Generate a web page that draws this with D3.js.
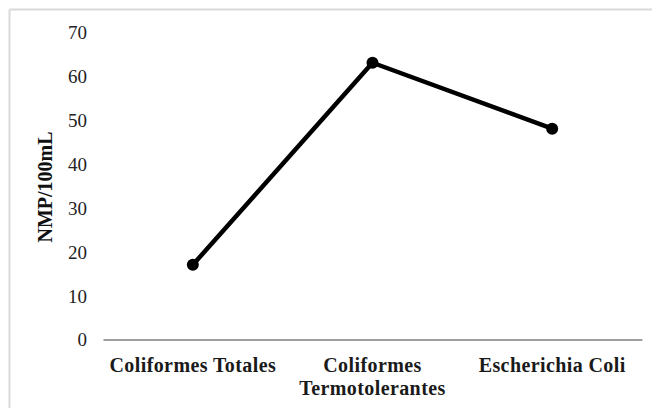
<!DOCTYPE html>
<html>
<head>
<meta charset="utf-8">
<script src="https://cdn.jsdelivr.net/npm/d3@7"></script>
<style>
  html, body { margin: 0; padding: 0; background: #fff; }
  svg { display: block; }
</style>
</head>
<body>
<svg id="chart" width="652" height="408"></svg>
<script>
const categories = ["Coliformes Totales", "Coliformes Termotolerantes", "Escherichia Coli"];
const categoryLines = [["Coliformes Totales"], ["Coliformes", "Termotolerantes"], ["Escherichia Coli"]];
const values = [17, 63, 48];
const yTicks = [0, 10, 20, 30, 40, 50, 60, 70];
const yLabel = "NMP/100mL";

const svg = d3.select("#chart");
const W = 652, H = 408;
const serif = "'Liberation Serif', 'Times New Roman', Times, serif";

svg.append("rect").attr("width", W).attr("height", H).attr("fill", "#fff");
// frame (top and left edges visible)
svg.append("line").attr("x1", 9.5).attr("x2", W).attr("y1", 9.5).attr("y2", 9.5)
  .attr("stroke", "#d9d9d9").attr("stroke-width", 2);
svg.append("line").attr("x1", 9.5).attr("x2", 9.5).attr("y1", 9.5).attr("y2", H)
  .attr("stroke", "#d9d9d9").attr("stroke-width", 2);

const x = d3.scaleBand().domain(categories).range([103, 642]);
const y = d3.scaleLinear().domain([0, 70]).range([339.5, 32]);

// y tick labels
const yAxis = d3.axisLeft(y).tickValues(yTicks).tickSize(0).tickPadding(0).tickFormat(d3.format("d"));
const gy = svg.append("g").attr("transform", "translate(87,0)").call(yAxis);
gy.attr("font-family", null).attr("font-size", null);
gy.select(".domain").remove();
gy.selectAll("text")
  .style("font-family", serif).style("font-size", "19px").attr("fill", "#222").attr("dy", "0.34em");

// x axis
const xAxis = d3.axisBottom(x).tickSize(0).tickFormat(() => "");
const gx = svg.append("g").attr("transform", `translate(0,${y(0)})`).call(xAxis);
gx.select(".domain").attr("stroke", "#7f7f7f").attr("stroke-width", 1.5);

// category labels
categories.forEach((c, i) => {
  const cx = x(c) + x.bandwidth() / 2;
  const t = svg.append("text")
    .attr("x", cx)
    .attr("y", 372)
    .attr("text-anchor", "middle")
    .style("font-family", serif)
    .style("font-weight", "bold")
    .style("font-size", "20px")
    .style("letter-spacing", "0.4px")
    .attr("fill", "#1a1a1a");
  categoryLines[i].forEach((ln, j) => {
    t.append("tspan").attr("x", cx).attr("dy", j === 0 ? 0 : 23).text(ln);
  });
});

// y label
svg.append("text")
  .attr("transform", `translate(52,187) rotate(-90)`)
  .attr("text-anchor", "middle")
  .style("font-family", serif)
  .style("font-weight", "bold")
  .style("font-size", "20px")
  .attr("fill", "#111")
  .text(yLabel);

// line
const data = categories.map((c, i) => ({ c, v: values[i] }));
const line = d3.line().x(d => x(d.c) + x.bandwidth() / 2).y(d => y(d.v));
svg.append("path").datum(data).attr("d", line)
  .attr("fill", "none").attr("stroke", "#000").attr("stroke-width", 4.5).attr("stroke-linejoin", "round");
svg.selectAll("circle.pt").data(data).join("circle").attr("class", "pt")
  .attr("cx", d => x(d.c) + x.bandwidth() / 2).attr("cy", d => y(d.v)).attr("r", 6).attr("fill", "#000");
</script>
</body>
</html>
